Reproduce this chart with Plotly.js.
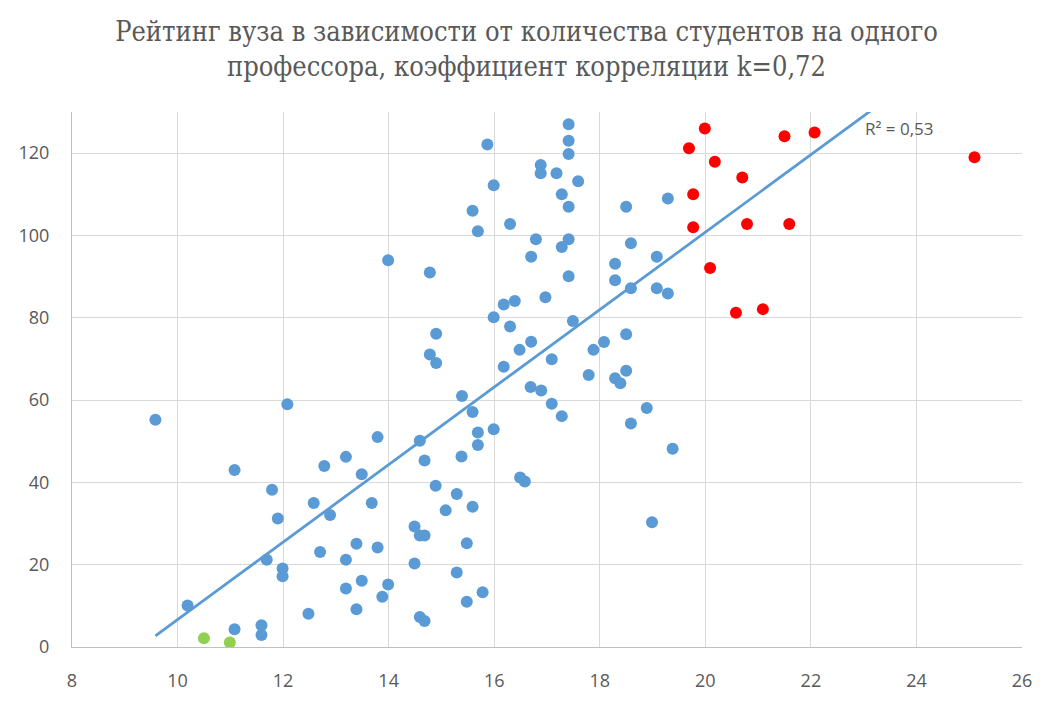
<!DOCTYPE html>
<html>
<head>
<meta charset="utf-8">
<script src="https://cdn.plot.ly/plotly-3.0.1.min.js"></script>
<style>
  html, body { margin: 0; padding: 0; background: #fff; }
  #chart { width: 1053px; height: 713px; }
</style>
</head>
<body>
<div id="chart"></div>
<script>
// students per professor (x) vs university rating (y)
const blueX = [9.58, 10.19, 11.08, 11.08, 11.59, 11.59, 11.69, 11.79, 11.9, 11.99, 11.99, 12.08, 12.48, 12.58, 12.7, 12.78, 12.89,
  13.19, 13.19, 13.19, 13.39, 13.39, 13.49, 13.49, 13.68, 13.79, 13.79, 13.88, 13.99, 13.99,
  14.49, 14.49, 14.59, 14.59, 14.68, 14.59, 14.68, 14.68, 14.78, 14.78, 14.9, 14.9, 14.89, 15.08, 15.29, 15.29,
  15.39, 15.38, 15.48, 15.48, 15.59, 15.59, 15.59, 15.69, 15.69, 15.69, 15.78, 15.87, 15.99, 15.99, 15.99,
  16.18, 16.18, 16.3, 16.3, 16.39, 16.48, 16.49, 16.58, 16.7, 16.7, 16.69, 16.79, 16.88, 16.88, 16.89,
  16.97, 17.09, 17.09, 17.18, 17.28, 17.28, 17.28, 17.41, 17.41, 17.41, 17.41, 17.41, 17.41, 17.49, 17.59,
  17.79, 17.88, 18.08, 18.29, 18.29, 18.29, 18.39, 18.5, 18.5, 18.5, 18.59, 18.59, 18.59, 18.89, 18.99,
  19.08, 19.08, 19.29, 19.29, 19.38];
const blueY = [55.2, 10.1, 43, 4.3, 5.3, 2.9, 21.2, 38.2, 31.2, 19.1, 17.2, 59, 8.1, 35, 23.1, 44, 32.1,
  46.2, 21.2, 14.2, 25.1, 9.2, 42, 16.1, 35, 51, 24.2, 12.2, 15.2, 94,
  29.3, 20.3, 50.1, 27.1, 27.1, 7.3, 6.3, 45.3, 91, 71.1, 76.1, 69, 39.2, 33.2, 37.2, 18.1,
  61, 46.3, 25.2, 11, 106, 57.1, 34.1, 101, 52.1, 49.1, 13.3, 122.1, 112.2, 80.1, 52.9,
  83.2, 68.1, 77.9, 102.8, 84.1, 72.2, 41.2, 40.2, 94.8, 74.2, 63.2, 99.1, 117.1, 115.1, 62.3,
  85, 69.9, 59.1, 115.1, 110, 97.2, 56.1, 127, 123, 119.8, 107, 99.1, 90.1, 79.2, 113.2,
  66.1, 72.2, 74.1, 93.1, 89.1, 65.3, 64.1, 107, 76, 67.1, 98.1, 87.2, 54.3, 58.1, 30.3,
  94.8, 87.2, 85.9, 109, 48.2];

const redX = [19.69, 19.77, 19.77, 19.99, 20.18, 20.7, 21.5, 22.07, 20.79, 21.59, 20.09, 20.58, 21.09, 25.1];
const redY = [121.2, 110, 102, 126, 117.9, 114.1, 124.1, 125, 102.8, 102.8, 92.1, 81.2, 82.1, 119];

const greenX = [10.5, 10.99];
const greenY = [2.1, 1.1];

const xTicks = [8, 10, 12, 14, 16, 18, 20, 22, 24, 26];
const yTicks = [0, 20, 40, 60, 80, 100, 120];

const chartTitle = "Рейтинг вуза в зависимости от количества студентов на одного<br>профессора, коэффициент корреляции k=0,72";
const r2Label = "R² = 0,53";

// linear trendline over all points (least squares)
const allX = blueX.concat(redX, greenX);
const allY = blueY.concat(redY, greenY);
const n = allX.length;
const mx = allX.reduce((a, b) => a + b, 0) / n;
const my = allY.reduce((a, b) => a + b, 0) / n;
let sxy = 0, sxx = 0;
for (let i = 0; i < n; i++) {
  sxy += (allX[i] - mx) * (allY[i] - my);
  sxx += (allX[i] - mx) * (allX[i] - mx);
}
const slope = sxy / sxx;
const icept = my - slope * mx;
const xMin = Math.min(...allX);
const xMax = Math.max(...allX);
const trendX = [xMin, xMax];
const trendY = trendX.map((x) => icept + slope * x);

const grey = "#595959";
const tickFont = { family: "Open Sans", size: 18, color: grey };

const blue = {
  x: blueX, y: blueY, mode: "markers", type: "scatter",
  marker: { color: "#5B9BD5", size: 12 }, hoverinfo: "none",
};
const red = {
  x: redX, y: redY, mode: "markers", type: "scatter",
  marker: { color: "#FF0000", size: 12 }, hoverinfo: "none",
};
const green = {
  x: greenX, y: greenY, mode: "markers", type: "scatter",
  marker: { color: "#92D050", size: 12 }, hoverinfo: "none",
};
const trend = {
  x: trendX, y: trendY, mode: "lines", type: "scatter",
  line: { color: "#5B9BD5", width: 2.8 }, hoverinfo: "none",
};

const layout = {
  width: 1053,
  height: 713,
  margin: { l: 72, r: 31, t: 112, b: 66 },
  showlegend: false,
  paper_bgcolor: "#fff",
  plot_bgcolor: "#fff",
  title: {
    text: chartTitle,
    font: { family: "DejaVu Serif Condensed, DejaVu Serif", size: 27, color: grey },
    xref: "container", x: 0.5, xanchor: "center",
    yref: "container", y: 0.942, yanchor: "top",
  },
  xaxis: {
    range: [8, 26],
    tickvals: xTicks,
    ticktext: xTicks.map(String),
    showgrid: true,
    gridcolor: "#d9d9d9",
    gridwidth: 1,
    zeroline: false,
    showline: true,
    linecolor: "#bfbfbf",
    linewidth: 1,
    ticks: "",
    ticklabelstandoff: 17,
    tickfont: tickFont,
  },
  yaxis: {
    range: [0, 130],
    tickvals: yTicks,
    ticktext: yTicks.map(String),
    showgrid: true,
    gridcolor: "#d9d9d9",
    gridwidth: 1,
    zeroline: false,
    showline: true,
    linecolor: "#bfbfbf",
    linewidth: 1,
    ticks: "",
    ticklabelstandoff: 18,
    tickfont: tickFont,
  },
  annotations: [{
    text: r2Label,
    x: 22.98, y: 126, xref: "x", yref: "y",
    xanchor: "left", yanchor: "middle",
    showarrow: false,
    font: { family: "Open Sans", size: 17, color: grey },
  }],
};

const config = { staticPlot: true, responsive: false };

Plotly.newPlot("chart", [blue, red, green, trend], layout, config);
</script>
</body>
</html>
